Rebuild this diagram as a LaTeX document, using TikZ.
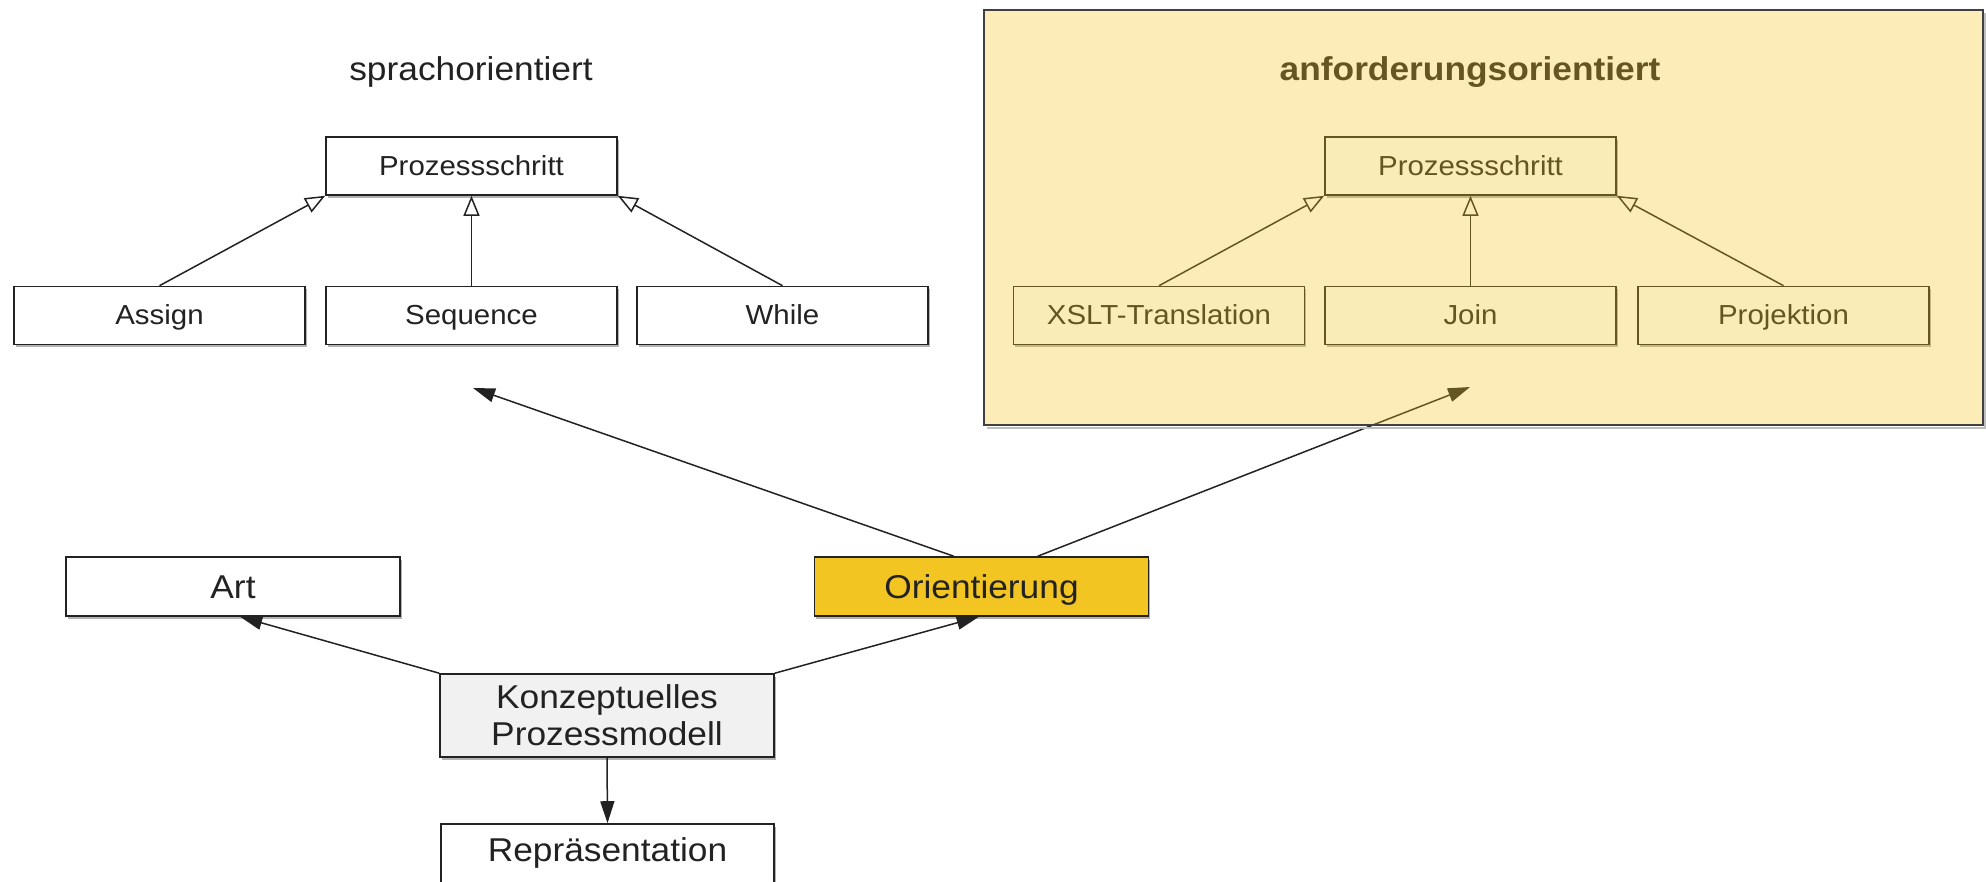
\documentclass[tikz,border=0pt]{standalone}
\usepackage{fontspec}
\setmainfont{Liberation Sans}[FakeStretch=1.07]
\usetikzlibrary{arrows.meta,shadows,calc}
\definecolor{gold}{HTML}{F2C522}
\definecolor{konzgray}{HTML}{F0F1F0}
\definecolor{ink}{HTML}{222222}
\begin{document}
\begin{tikzpicture}[x=1pt,y=-1pt,
  box/.style={draw=ink, line width=1.6pt, fill=white, rectangle,
    minimum width=291pt, minimum height=58pt, inner sep=0pt,
    font=\fontsize{27.5}{32}\selectfont, text=ink,
    text height=22pt, text depth=4pt,
    drop shadow={shadow xshift=1.5pt, shadow yshift=-2.5pt, fill=black!30, opacity=1}},
  bigbox/.style={box, minimum width=334pt, minimum height=59pt,
    font=\fontsize{33}{38}\selectfont, text height=28pt, text depth=4pt},
  title/.style={font=\fontsize{33}{38}\selectfont, text=ink, inner sep=0pt},
  gen/.style={draw=ink, line width=1.5pt, -{Triangle[length=20pt, width=16pt, fill=white, line width=1.5pt]}},
  assoc/.style={draw=ink, line width=1.5pt, -{Triangle[length=22pt, width=14pt]}}
]
\useasboundingbox (0,0) rectangle (1986,881);

% language oriented class tree
\node[title] (t1) at (471,72) {sprachorientiert};
\node[box] (ps1)    at (471.5,166)   {Prozessschritt};
\node[box] (assign) at (159.5,315.5) {Assign};
\node[box] (seq)    at (471.5,315.5) {Sequence};
\node[box] (while)  at (782.5,315.5) {While};
\draw[gen] (assign.north) -- (ps1.south west);
\draw[gen] (seq.north) -- (ps1.south);
\draw[gen] (while.north) -- (ps1.south east);

% requirement oriented class tree
\node[title, font=\fontsize{33}{38}\bfseries\selectfont] (t2) at (1470,72) {anforderungsorientiert};
\node[box] (ps2)  at (1470.5,166)   {Prozessschritt};
\node[box] (xslt) at (1159,315.5)   {XSLT-Translation};
\node[box] (join) at (1470.5,315.5) {Join};
\node[box] (proj) at (1783.5,315.5) {Projektion};
\draw[gen] (xslt.north) -- (ps2.south west);
\draw[gen] (join.north) -- (ps2.south);
\draw[gen] (proj.north) -- (ps2.south east);

% conceptual process model and its aspects
\node[bigbox] (art)    at (233,586.5)   {Art};
\node[bigbox, fill=gold] (orient) at (981.5,586.5) {Orientierung};
\node[bigbox, fill=konzgray, minimum height=83pt, align=center,
      text height=, text depth=, font=\fontsize{33}{37}\selectfont] (konz) at (607,715.5) {Konzeptuelles\\Prozessmodell};
\node[bigbox, minimum width=333pt, text depth=12pt] (repr) at (607.5,853.5) {Repräsentation};

\coordinate (lefttip)  at (473,388);
\coordinate (righttip) at (1470,387);
\draw[assoc] ($(orient.north west)+(140,0)$) -- (lefttip);
\draw[assoc] ($(orient.north west)+(224,0)$) -- (righttip);
\draw[assoc] (konz.north west) -- ($(art.south west)+(175,0)$);
\draw[assoc] (konz.north east) -- ($(orient.south west)+(165,0)$);
\draw[assoc] (konz.south) -- (repr.north);

% translucent highlight panel over the requirement oriented tree
\draw[black!25, line width=2.5pt] (987,428) -- (1985,428) -- (1985,13);
\node[draw=black!75, line width=1.8pt, fill=gold, fill opacity=0.32,
      minimum width=999pt, minimum height=415pt, inner sep=0pt] (panel) at (1483.5,217.5) {};
\end{tikzpicture}
\end{document}
